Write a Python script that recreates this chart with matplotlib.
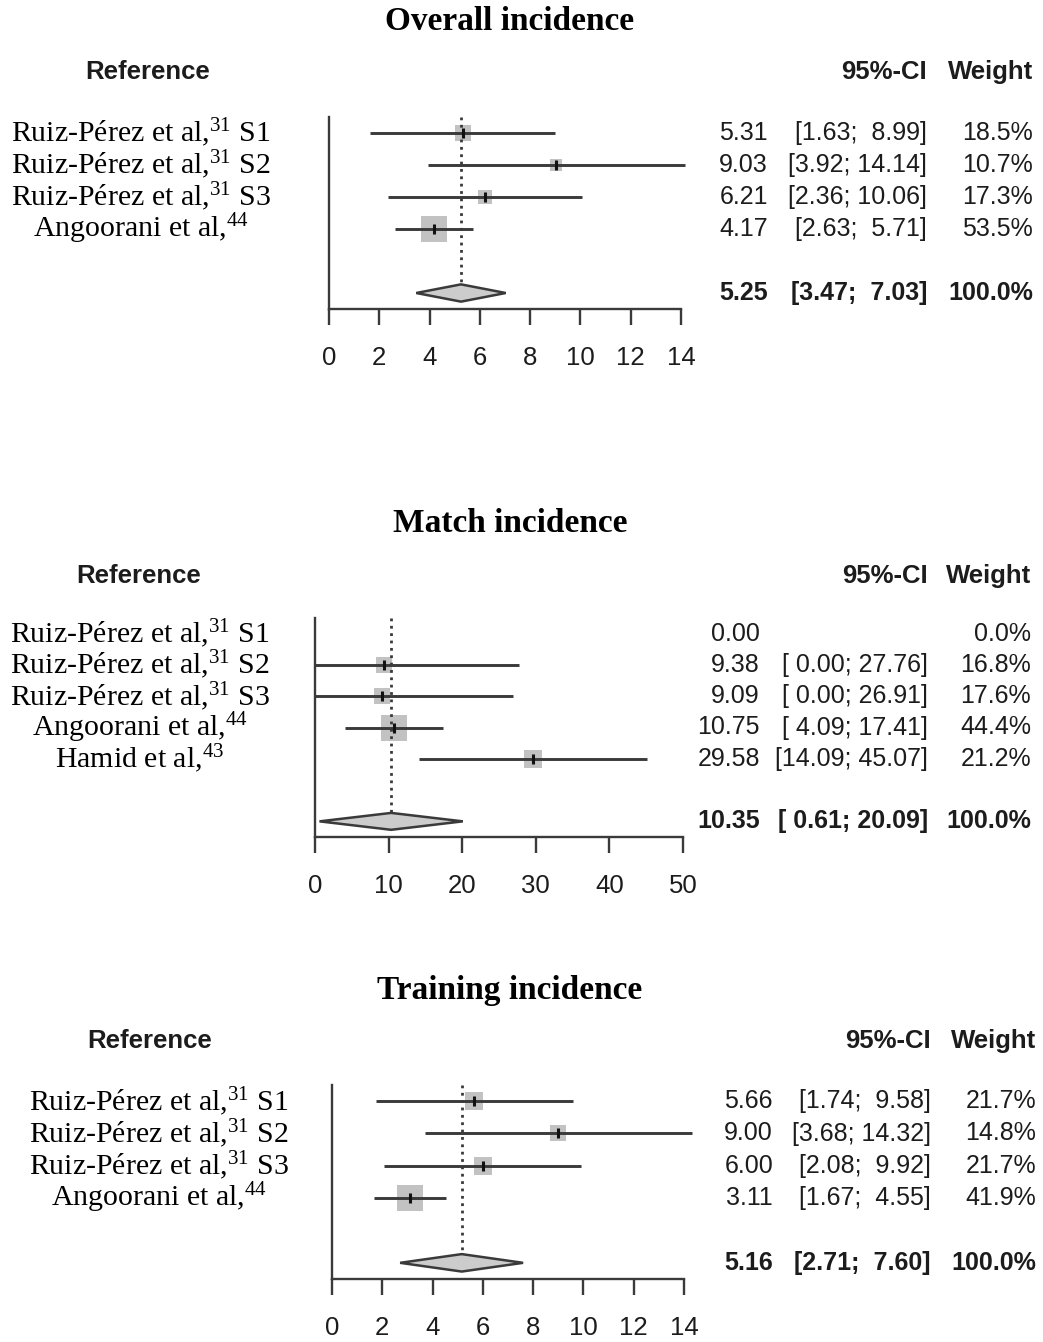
import numpy as np
import matplotlib.pyplot as plt
from matplotlib.transforms import blended_transform_factory

plt.rcParams['font.family'] = ['Liberation Sans', 'DejaVu Sans']
plt.rcParams['mathtext.fontset'] = 'custom'
plt.rcParams['mathtext.rm'] = 'Liberation Serif'
plt.rcParams['mathtext.it'] = 'Liberation Serif:italic'
plt.rcParams['mathtext.bf'] = 'Liberation Serif:bold'

W, H = 1043, 1342

# ---- data ----
overall_labels = ["Ruiz-Pérez et al,$^{\\mathrm{31}}$ S1", "Ruiz-Pérez et al,$^{\\mathrm{31}}$ S2",
                  "Ruiz-Pérez et al,$^{\\mathrm{31}}$ S3", "Angoorani et al,$^{\\mathrm{44}}$"]
overall_est = [5.31, 9.03, 6.21, 4.17]
overall_lo = [1.63, 3.92, 2.36, 2.63]
overall_hi = [8.99, 14.14, 10.06, 5.71]
overall_w = [18.5, 10.7, 17.3, 53.5]
overall_pooled = [5.25, 3.47, 7.03]

match_labels = ["Ruiz-Pérez et al,$^{\\mathrm{31}}$ S1", "Ruiz-Pérez et al,$^{\\mathrm{31}}$ S2",
                "Ruiz-Pérez et al,$^{\\mathrm{31}}$ S3", "Angoorani et al,$^{\\mathrm{44}}$",
                "Hamid et al,$^{\\mathrm{43}}$"]
match_est = [0.00, 9.38, 9.09, 10.75, 29.58]
match_lo = [np.nan, 0.00, 0.00, 4.09, 14.09]
match_hi = [np.nan, 27.76, 26.91, 17.41, 45.07]
match_w = [0.0, 16.8, 17.6, 44.4, 21.2]
match_pooled = [10.35, 0.61, 20.09]

training_labels = overall_labels
training_est = [5.66, 9.00, 6.00, 3.11]
training_lo = [1.74, 3.68, 2.08, 1.67]
training_hi = [9.58, 14.32, 9.92, 4.55]
training_w = [21.7, 14.8, 21.7, 41.9]
training_pooled = [5.16, 2.71, 7.60]

# layout in pixels of the reference picture
panels = [
    dict(title="Overall incidence", labels=overall_labels, est=overall_est, lo=overall_lo,
         hi=overall_hi, w=overall_w, pooled=overall_pooled, xmax=14, step=2,
         box=(329, 681, 117, 309), title_y=22, head_y=72, ref_x=148, lab_x=141,
         est_x=768, ci_x=927, w_x=1033),
    dict(title="Match incidence", labels=match_labels, est=match_est, lo=match_lo,
         hi=match_hi, w=match_w, pooled=match_pooled, xmax=50, step=10,
         box=(315, 683, 618, 837), title_y=523, head_y=576, ref_x=139, lab_x=140,
         est_x=760, ci_x=928, w_x=1031),
    dict(title="Training incidence", labels=training_labels, est=training_est, lo=training_lo,
         hi=training_hi, w=training_w, pooled=training_pooled, xmax=14, step=2,
         box=(332, 684, 1085, 1279), title_y=990, head_y=1041, ref_x=150, lab_x=159,
         est_x=773, ci_x=931, w_x=1036),
]

dark = '#3a3a3a'
box_col = '#c2c2c2'
txt = '#1c1c1c'
vsize = 18

fig = plt.figure(figsize=(W / 100, H / 100), dpi=100)

for p in panels:
    x0, x1, y0, y1 = p['box']
    ax = fig.add_axes([x0 / W, 1 - y1 / H, (x1 - x0) / W, (y1 - y0) / H])
    n = len(p['est'])
    rows = np.arange(n)
    ysum = n + 1
    ax.set_xlim(0, p['xmax'])
    ax.set_ylim(n + 1.5, -0.5)

    est = np.array(p['est'])
    lo = np.array(p['lo'])
    hi = np.array(p['hi'])
    w = np.array(p['w'])
    pe, plo, phi = p['pooled']

    # dotted line at the pooled estimate
    h = 0.27
    ax.plot([pe, pe], [-0.5, ysum - h], ls=':', lw=2, color=dark, zorder=3)

    # study squares, CI lines, point marks
    side_px = 26 * np.sqrt(w / w.max())
    for i in rows:
        if w[i] <= 0:
            continue
        ax.scatter(est[i], i, s=(side_px[i] * 0.72) ** 2, marker='s', color=box_col,
                   linewidths=0, zorder=2)
        ax.plot([lo[i], hi[i]], [i, i], color=dark, lw=2.1, zorder=4, clip_on=False,
                solid_capstyle='butt')
        ax.plot(est[i], i, marker='|', ms=6.5, mew=2.2, color='#111111', zorder=5)

    # pooled diamond
    ax.fill([plo, pe, phi, pe], [ysum, ysum - h, ysum, ysum + h], facecolor='#cccccc',
            edgecolor=dark, lw=1.8, zorder=4, clip_on=False)

    for s in ['top', 'right']:
        ax.spines[s].set_visible(False)
    for s in ['left', 'bottom']:
        ax.spines[s].set_color(dark)
        ax.spines[s].set_linewidth(1.7)
    ax.set_yticks([])
    ax.set_xticks(np.arange(0, p['xmax'] + 1, p['step']))
    ax.tick_params(axis='x', direction='out', length=11.5, width=1.7, color=dark,
                   labelsize=18.5, pad=15, labelcolor=txt)
    ax.patch.set_alpha(0)

    # texts
    fig.text(510 / W, 1 - p['title_y'] / H, p['title'], ha='center', va='center',
             family='Liberation Serif', weight='bold', fontsize=24, color='black')
    fig.text(p['ref_x'] / W, 1 - p['head_y'] / H, "Reference", ha='center', va='center',
             weight='bold', fontsize=18.5, color=txt)
    fig.text(p['ci_x'] / W, 1 - p['head_y'] / H, "95%-CI", ha='right', va='center',
             weight='bold', fontsize=18.5, color=txt)
    fig.text(p['w_x'] / W, 1 - p['head_y'] / H, "Weight", ha='right', va='center',
             weight='bold', fontsize=18.5, color=txt)

    tr = blended_transform_factory(fig.transFigure, ax.transData)
    for i in rows:
        ax.text(p['lab_x'] / W, i, p['labels'][i], transform=tr, ha='center', va='center',
                family='Liberation Serif', fontsize=21.5, color='black')

    lo_s = ["%.2f" % v for v in list(lo) + [plo] if not np.isnan(v)]
    hi_s = ["%.2f" % v for v in list(hi) + [phi] if not np.isnan(v)]
    wl = max(len(s) for s in lo_s)
    wh = max(len(s) for s in hi_s)

    def ci_text(a, b):
        if np.isnan(a):
            return ""
        return "[%s; %s]" % (("%.2f" % a).rjust(wl), ("%.2f" % b).rjust(wh))

    for i in rows:
        ax.text(p['est_x'] / W, i, "%.2f" % est[i], transform=tr, ha='right', va='center',
                fontsize=vsize, color=txt)
        ax.text(p['ci_x'] / W, i, ci_text(lo[i], hi[i]), transform=tr, ha='right',
                va='center', fontsize=vsize, color=txt)
        ax.text(p['w_x'] / W, i, "%.1f%%" % w[i], transform=tr, ha='right', va='center',
                fontsize=vsize, color=txt)
    ax.text(p['est_x'] / W, ysum, "%.2f" % pe, transform=tr, ha='right', va='center',
            fontsize=vsize, weight='bold', color=txt)
    ax.text(p['ci_x'] / W, ysum, ci_text(plo, phi), transform=tr, ha='right', va='center',
            fontsize=vsize, weight='bold', color=txt)
    ax.text(p['w_x'] / W, ysum, "%.1f%%" % w.sum().round(0), transform=tr, ha='right',
            va='center', fontsize=vsize, weight='bold', color=txt)

fig.savefig("out.png", dpi=100, facecolor='white')
